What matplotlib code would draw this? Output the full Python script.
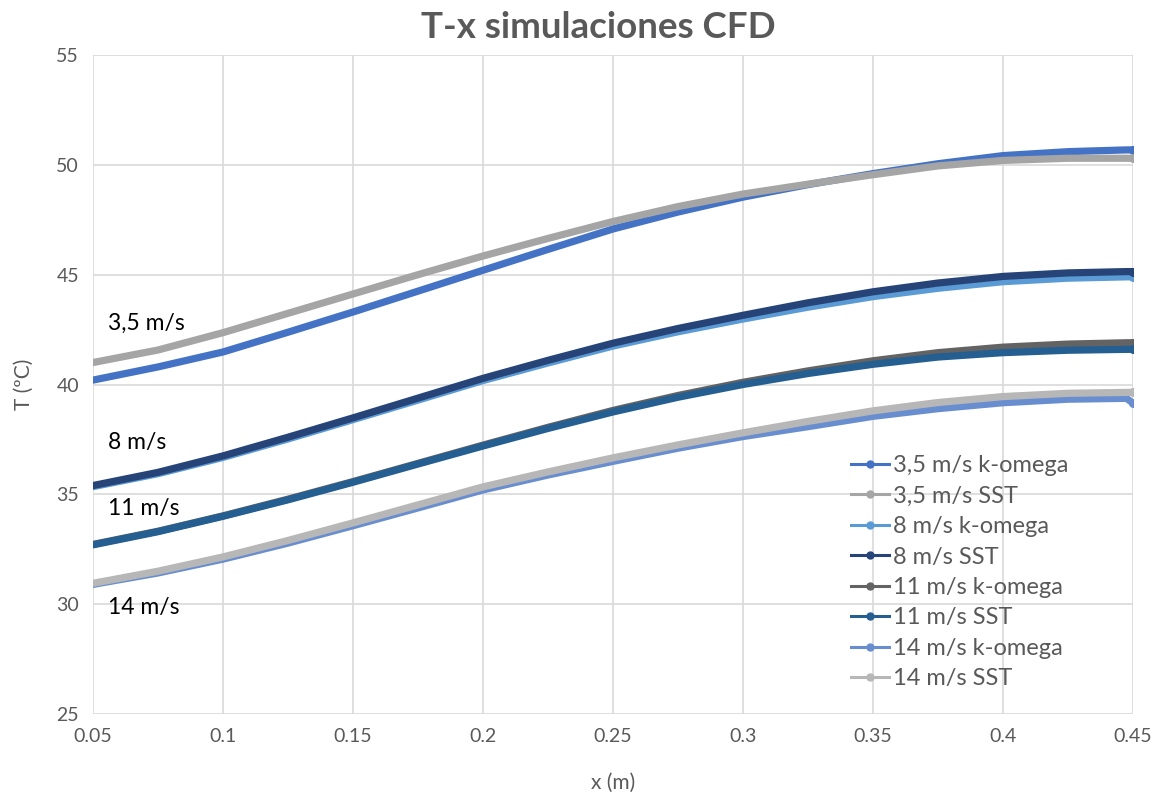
import matplotlib
matplotlib.use("Agg")
import matplotlib.pyplot as plt
from matplotlib.lines import Line2D

plt.rcParams['font.family'] = ['Lato', 'DejaVu Sans']

x = [0.05, 0.075, 0.1, 0.125, 0.15, 0.175, 0.2, 0.225, 0.25, 0.275, 0.3,
     0.325, 0.35, 0.375, 0.4, 0.425, 0.4475, 0.45]

t35_komega = [40.2, 40.8, 41.48, 42.38, 43.3, 44.25, 45.2, 46.15, 47.08, 47.85, 48.53,
              49.1, 49.6, 50.05, 50.42, 50.6, 50.68, 50.68]
t35_sst = [41.0, 41.57, 42.36, 43.24, 44.12, 45.0, 45.85, 46.65, 47.42, 48.1, 48.67,
           49.12, 49.55, 49.95, 50.2, 50.3, 50.3, 50.3]
t8_komega = [35.35, 35.94, 36.68, 37.52, 38.4, 39.29, 40.18, 40.98, 41.75, 42.4, 42.98,
             43.52, 44.0, 44.38, 44.68, 44.84, 44.9, 44.9]
t8_sst = [35.4, 36.0, 36.75, 37.6, 38.48, 39.38, 40.28, 41.1, 41.88, 42.55, 43.15,
          43.72, 44.22, 44.62, 44.92, 45.08, 45.14, 45.14]
t11_komega = [32.72, 33.32, 34.02, 34.78, 35.58, 36.41, 37.24, 38.05, 38.82, 39.5, 40.1,
              40.62, 41.08, 41.45, 41.7, 41.84, 41.9, 41.9]
t11_sst = [32.7, 33.3, 34.0, 34.75, 35.55, 36.38, 37.2, 38.0, 38.75, 39.42, 40.0,
           40.5, 40.92, 41.25, 41.45, 41.56, 41.6, 41.6]
t14_komega = [30.9, 31.42, 32.05, 32.78, 33.57, 34.38, 35.2, 35.88, 36.5, 37.1, 37.63,
              38.08, 38.55, 38.9, 39.17, 39.33, 39.37, 39.15]
t14_sst = [30.95, 31.5, 32.15, 32.9, 33.7, 34.52, 35.34, 36.02, 36.66, 37.25, 37.8,
           38.32, 38.8, 39.18, 39.45, 39.6, 39.64, 39.64]

series = [
    ("3,5 m/s k-omega", t35_komega, "#4472C4"),
    ("3,5 m/s SST", t35_sst, "#A5A5A5"),
    ("8 m/s k-omega", t8_komega, "#5B9BD5"),
    ("8 m/s SST", t8_sst, "#264478"),
    ("11 m/s k-omega", t11_komega, "#636363"),
    ("11 m/s SST", t11_sst, "#255E91"),
    ("14 m/s k-omega", t14_komega, "#698ED0"),
    ("14 m/s SST", t14_sst, "#B7B7B7"),
]

xticks = [0.05, 0.1, 0.15, 0.2, 0.25, 0.3, 0.35, 0.4, 0.45]
xticklabels = ["0.05", "0.1", "0.15", "0.2", "0.25", "0.3", "0.35", "0.4", "0.45"]
yticks = [25, 30, 35, 40, 45, 50, 55]

fig = plt.figure(figsize=(11.67, 7.99), dpi=100)
ax = fig.add_axes([93/1167, 1-714/799, (1133-93)/1167, (714-55)/799])

handles = []
for name, vals, col in series:
    ax.plot(x, vals, color=col, lw=5.2, solid_capstyle='round', solid_joinstyle='round',
            marker='o', ms=5.5, markevery=[len(x)-1], zorder=3)
    handles.append(Line2D([0], [0], color=col, lw=2.2, marker='o', ms=5))

ax.set_xlim(0.05, 0.45)
ax.set_ylim(25, 55)
ax.set_xticks(xticks)
ax.set_xticklabels(xticklabels)
ax.set_yticks(yticks)
ax.grid(True, color="#D9D9D9", lw=1.2, zorder=0)
for s in ax.spines.values():
    s.set_visible(False)
ax.tick_params(length=0, labelsize=14, colors="#595959", pad=10)
ax.set_xlabel("x (m)", fontsize=15, color="#595959", labelpad=20)
ax.set_ylabel("T (ºC)", fontsize=15, color="#595959", labelpad=16)
fig.text(598/1167, 1-28/799, "T-x simulaciones CFD", fontsize=26.5, fontweight='bold',
         color="#595959", ha='center', va='center')

for txt, yy in [("3,5 m/s", 42.8), ("8 m/s", 37.35), ("11 m/s", 34.35), ("14 m/s", 29.85)]:
    ax.text(0.0557, yy, txt, fontsize=16.5, color="black", va='center', ha='left')

leg = ax.legend(handles, [s[0] for s in series], loc='upper left',
                bbox_to_anchor=((830-93)/1040, (714-434)/659), frameon=False,
                fontsize=17, labelcolor="#595959", handlelength=1.6, handletextpad=0.15,
                labelspacing=0.4)

fig.savefig("out.png", dpi=100)
